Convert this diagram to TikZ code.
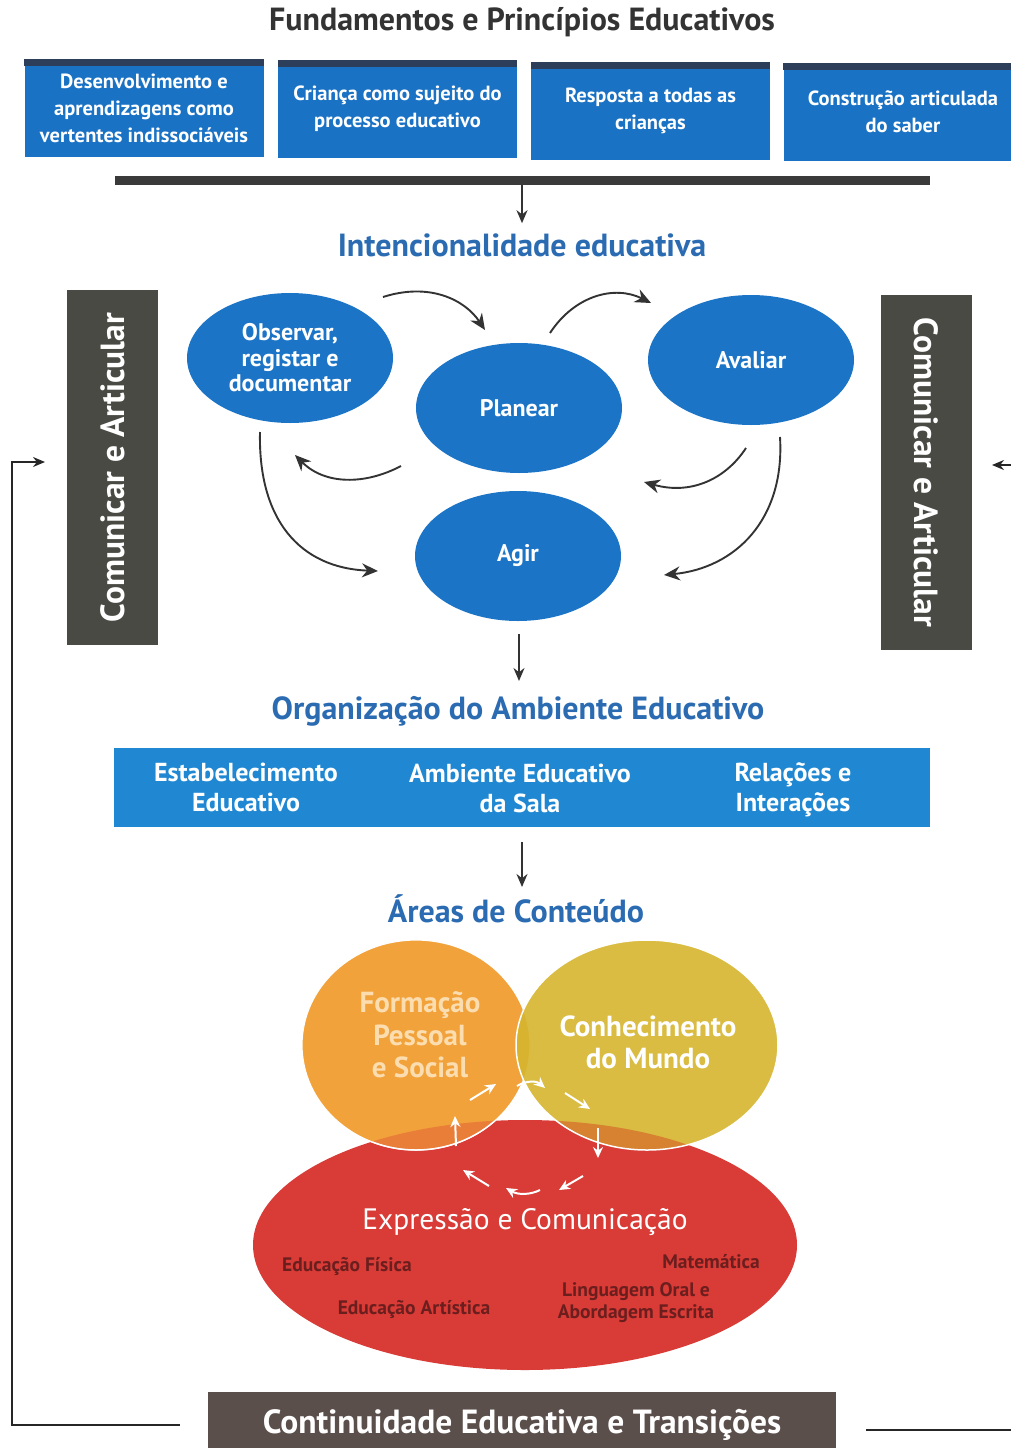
\documentclass[tikz,border=0pt]{standalone}
\usepackage{fontspec}
\setmainfont{PT Sans}
\usetikzlibrary{arrows.meta,shapes.geometric}
\definecolor{titlegray}{HTML}{333333}
\definecolor{boxblue}{HTML}{1A72C4}
\definecolor{stripc}{HTML}{2C3E5A}
\definecolor{headblue}{HTML}{2B6BB2}
\definecolor{ellblue}{HTML}{1B74C6}
\definecolor{barblue}{HTML}{2088D2}
\definecolor{bargray}{HTML}{3A3A3A}
\definecolor{sidegray}{HTML}{4A4A44}
\definecolor{botbrown}{HTML}{5B4F4B}
\definecolor{arrowgray}{HTML}{333333}
\definecolor{orangec}{HTML}{F2A23A}
\definecolor{yellowc}{HTML}{D6B52E}
\definecolor{redc}{HTML}{D93B36}
\definecolor{paletext}{HTML}{FBDDB0}
\definecolor{maroon}{HTML}{6B1E1E}
\begin{document}
\begin{tikzpicture}[x=1pt,y=-1pt,
  topbox/.style={fill=boxblue, minimum width=239pt, minimum height=98pt, inner sep=0pt, text=white, align=center,
    font=\bfseries\fontsize{20.5}{27}\selectfont},
  hd/.style={font=\bfseries\fontsize{32}{36}\selectfont, text=titlegray, inner sep=0pt},
  bhd/.style={font=\bfseries\fontsize{32}{36}\selectfont, text=headblue, inner sep=0pt},
  bell/.style={ellipse, fill=ellblue, minimum width=206pt, minimum height=130pt, inner sep=0pt, text=white, align=center,
    font=\bfseries\fontsize{24}{25.5}\selectfont},
  arr/.style={draw=arrowgray, line width=2pt, -{Stealth[length=13pt,width=11pt]}},
  carr/.style={draw=arrowgray, line width=1.9pt, -{Stealth[length=16pt,width=14pt]}},
  sidebox/.style={fill=sidegray, minimum width=355pt, minimum height=91pt, inner sep=0pt, text=white,
    font=\bfseries\fontsize{33.5}{36}\selectfont},
  bartext/.style={text=white, align=center, font=\bfseries\fontsize{26}{30}\selectfont, inner sep=0pt},
  wa/.style={draw=white, line width=2pt, -{Stealth[length=11pt,width=10pt]}},
  sub/.style={text=maroon, align=center, font=\bfseries\fontsize{19.5}{22}\selectfont, inner sep=0pt},
  ln/.style={draw=black!85, line width=1.6pt}
]
\useasboundingbox (0,0) rectangle (1011,1448);
% title
\node[hd] (t0) at (522,22) {Fundamentos e Princípios Educativos};
% top boxes
\node[topbox] (f1) at (144,108) {Desenvolvimento e\\aprendizagens como\\vertentes indissociáveis};
\node[topbox] (f2) at (397.5,109) {Criança como sujeito do\\processo educativo};
\node[topbox] (f3) at (650.5,111) {Resposta a todas as\\crianças};
\node[topbox] (f4) at (903,112) {Construção articulada\\do saber};
\foreach \b in {f1,f2,f3,f4} {\fill[stripc] (\b.north west) rectangle ([yshift=-7pt]\b.north east);}
% bar and arrow
\node[fill=bargray, minimum width=815pt, minimum height=9pt, inner sep=0pt] (bar) at (522,180) {};
\node[bhd] (t1) at (522,245) {Intencionalidade educativa};
\draw[arr] (bar.south) -- ([yshift=10pt]t1.north);
% ellipses
\node[bell] (obs) at (290,358) {Observar,\\registar e\\documentar};
\node[bell] (pla) at (519,408) {Planear};
\node[bell] (ava) at (751,360) {Avaliar};
\node[bell] (agi) at (518,556) {Agir};
% cycle arrows
\coordinate (a1s) at (383,297); \coordinate (a1e) at (485,330);
\draw[carr] (a1s) .. controls (430,282) and (465,300) .. (a1e);
\coordinate (a2s) at (550,333); \coordinate (a2e) at (651,303);
\draw[carr] (a2s) .. controls (575,295) and (615,285) .. (a2e);
\coordinate (a3s) at (746,448); \coordinate (a3e) at (644,482);
\draw[carr] (a3s) .. controls (725,480) and (690,495) .. (a3e);
\coordinate (a4s) at (401,466); \coordinate (a4e) at (295,455);
\draw[carr] (a4s) .. controls (365,485) and (325,485) .. (a4e);
\coordinate (a5s) at (260,432); \coordinate (a5e) at (378,571);
\draw[carr] (a5s) .. controls (258,520) and (300,568) .. (a5e);
\coordinate (a6s) at (780,437); \coordinate (a6e) at (664,575);
\draw[carr] (a6s) .. controls (785,520) and (735,568) .. (a6e);
% side boxes
\node[sidebox, rotate=90] (cal) at (112.5,467.5) {Comunicar e Articular};
\node[sidebox, rotate=-90] (car) at (926.5,472.5) {Comunicar e Articular};
% organizacao
\node[bhd] (t2) at (518,711) {Organização do Ambiente Educativo};
\coordinate (agb) at (519,634); \coordinate (t2a) at (519,681);
\draw[arr] (agb) -- (t2a);
\node[fill=barblue, minimum width=816pt, minimum height=79pt, inner sep=0pt] (obar) at (522,787.5) {};
\node[bartext] (o1) at (246,787) {Estabelecimento\\Educativo};
\node[bartext] (o2) at (520,788) {Ambiente Educativo\\da Sala};
\node[bartext] (o3) at (793,790) {Relações e\\Interações};
\node[bhd] (t3) at (516,909) {Áreas de Conteúdo};
\coordinate (ob) at (522,842); \coordinate (t3a) at (522,887);
\draw[arr] (ob) -- (t3a);
% venn
\node[ellipse, fill=redc, minimum width=544pt, minimum height=250pt, inner sep=0pt] (ec) at (525,1245) {};
\node[ellipse, fill=orangec, minimum width=228pt, minimum height=210pt, inner sep=0pt] (fps) at (416,1045) {};
\draw[white, line width=1.2pt] (416,1045) ellipse [x radius=114pt, y radius=105pt];
\node[ellipse, fill=yellowc, fill opacity=0.9, minimum width=262pt, minimum height=210pt, inner sep=0pt] (cdm) at (647,1045) {};
\begin{scope}
\clip (525,1245) ellipse [x radius=272pt, y radius=125pt];
\fill[redc, opacity=0.35] (416,1045) ellipse [x radius=114pt, y radius=105pt] (647,1045) ellipse [x radius=131pt, y radius=105pt];
\draw[white, line width=1.5pt] (416,1045) ellipse [x radius=114pt, y radius=105pt];
\end{scope}
\draw[white, line width=1.5pt] (647,1045) ellipse [x radius=131pt, y radius=105pt];
\node[text=paletext, align=center, font=\bfseries\fontsize{29}{32.5}\selectfont, inner sep=0pt] (fpst) at (420,1035) {Formação\\Pessoal\\e Social};
\node[text=white, align=center, font=\bfseries\fontsize{29}{32}\selectfont, inner sep=0pt] (cdmt) at (648,1042) {Conhecimento\\do Mundo};
% white cycle arrows
\coordinate (w1s) at (470,1100); \coordinate (w1e) at (496,1084);
\draw[wa] (w1s) -- (w1e);
\coordinate (w2s) at (517,1086); \coordinate (w2e) at (545,1088);
\draw[wa] (w2s) .. controls (527,1080) and (537,1081) .. (w2e);
\coordinate (w3s) at (565,1093); \coordinate (w3e) at (590,1109);
\draw[wa] (w3s) -- (w3e);
\coordinate (w4s) at (598,1128); \coordinate (w4e) at (598,1158);
\draw[wa] (w4s) -- (w4e);
\coordinate (w5s) at (583,1176); \coordinate (w5e) at (559,1190);
\draw[wa] (w5s) -- (w5e);
\coordinate (w6s) at (540,1190); \coordinate (w6e) at (506,1188);
\draw[wa] (w6s) .. controls (530,1195) and (518,1195) .. (w6e);
\coordinate (w7s) at (489,1186); \coordinate (w7e) at (463,1170);
\draw[wa] (w7s) -- (w7e);
\coordinate (w8s) at (456,1146); \coordinate (w8e) at (455,1116);
\draw[wa] (w8s) -- (w8e);
\node[text=white, font=\fontsize{29.5}{32}\selectfont, inner sep=0pt] (ect) at (525,1222) {Expressão e Comunicação};
\node[sub] (s1) at (347,1266) {Educação Física};
\node[sub] (s2) at (414,1309) {Educação Artística};
\node[sub] (s3) at (711,1262) {Matemática};
\node[sub] (s4) at (636,1303) {Linguagem Oral e\\Abordagem Escrita};
% bottom box
\node[fill=botbrown, minimum width=628pt, minimum height=62pt, inner sep=0pt] (cet) at (522,1423) {};
\node[text=white, font=\bfseries\fontsize{33.5}{36}\selectfont, inner sep=0pt] (cett) at (522,1425) {Continuidade Educativa e Transições};
% feedback lines
\coordinate (l1) at (180,1425); \coordinate (l2) at (12,1425); \coordinate (la) at (45,462);
\draw[ln, -{Stealth[length=12pt,width=10pt]}] (l1) -- (l2) |- (la);
\coordinate (r1) at (866,1430); \coordinate (r2) at (1015,1430);
\draw[ln] (r1) -- (r2);
\coordinate (r3) at (1015,465); \coordinate (ra) at (992,465);
\draw[ln, -{Stealth[length=12pt,width=10pt]}] (r3) -- (ra);
\end{tikzpicture}
\end{document}
